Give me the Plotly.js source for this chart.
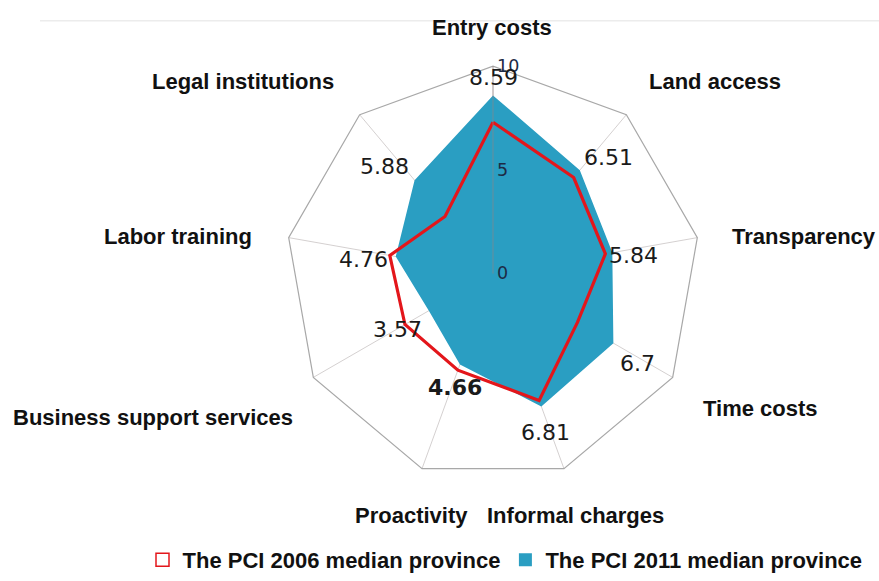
<!DOCTYPE html>
<html>
<head>
<meta charset="utf-8">
<script src="https://cdn.plot.ly/plotly-3.0.1.min.js"></script>
<style>html,body{margin:0;padding:0;background:#fff;}#chart{width:879px;height:581px;}</style>
</head>
<body>
<div id="chart"></div>
<script>
// ---- data ----
const categories = ["Entry costs","Land access","Transparency","Time costs","Informal charges","Proactivity","Business support services","Labor training","Legal institutions"];
const pci2011 = [8.59, 6.51, 5.84, 6.7, 6.81, 4.66, 3.57, 4.76, 5.88];
const pci2006 = [7.3, 6.05, 5.5, 4.7, 6.5, 4.95, 4.9, 5.05, 3.6];
const valueLabels = ["8.59","6.51","5.84","6.7","6.81","<b>4.66</b>","3.57","4.76","5.88"];
const seriesNames = ["The PCI 2006 median province","The PCI 2011 median province"];
const radialTicks = [0, 5, 10];

// ---- layout helpers (pixel positions, not data) ----
const W = 879, H = 581;
const catLabelPos = [[492,28],[715,82],[804,239],[760,413],[575,522],[411,522],[153,423],[178,239],[243,83]];
const valLabelPos = [[493,78],[608,159],[633,259],[637,368],[545,438],[455,392],[397,334],[363,263],[384,169]];
const px = (x)=>x/W, py = (y)=>1-y/H;

const close = a => a.concat([a[0]]);
const thetaC = close(categories);
const blue = 'rgb(42,158,194)';

const traces = [
  {type:'scatterpolar', r: close(pci2011), theta: thetaC, mode:'lines', fill:'toself',
   fillcolor:blue, line:{color:'rgba(0,0,0,0)', width:0}, showlegend:false, hoverinfo:'skip'},
  {type:'scatterpolar', r: close(pci2006), theta: thetaC, mode:'lines',
   line:{color:'#e3161b', width:3.2}, showlegend:false, hoverinfo:'skip'},
  {type:'scatterpolar', r:[null], theta:[categories[0]], mode:'markers', name: seriesNames[0],
   marker:{symbol:'square-open', size:13, color:'#e3161b', line:{width:1.5}}},
  {type:'scatterpolar', r:[null], theta:[categories[0]], mode:'markers', name: seriesNames[1],
   marker:{symbol:'square', size:13, color:blue}}
];

const annotations = [];
categories.forEach((c,i)=>{
  annotations.push({xref:'paper', yref:'paper', x:px(catLabelPos[i][0]), y:py(catLabelPos[i][1]),
    xanchor:'center', yanchor:'middle', text:'<b>'+c+'</b>', showarrow:false,
    font:{family:'Liberation Sans, Arial, sans-serif', size:22, color:'#111'}});
});
valueLabels.forEach((t,i)=>{
  annotations.push({xref:'paper', yref:'paper', x:px(valLabelPos[i][0]), y:py(valLabelPos[i][1]),
    xanchor:'center', yanchor:'middle', text:t, showarrow:false,
    font:{family:'DejaVu Sans, sans-serif', size:22, color:'#1a1a1a'}});
});

const layout = {
  width: W, height: H,
  margin:{l:0, r:0, t:0, b:0},
  paper_bgcolor:'#fff',
  showlegend:true,
  legend:{orientation:'h', x:px(505), xanchor:'center', y:py(567), yanchor:'middle',
    font:{family:'Liberation Sans, Arial, sans-serif', size:22, color:'#111', weight:'bold'},
    itemwidth:30, tracegroupgap:0, bgcolor:'rgba(0,0,0,0)'},
  polar:{
    domain:{x:[283/W, 703/W], y:[1-487/H, 1-67/H]},
    gridshape:'linear',
    bgcolor:'#fff',
    radialaxis:{range:[0,10], tickvals:radialTicks, ticktext:radialTicks.map(String), angle:90, tickangle:90,
      showgrid:false, showline:true, linecolor:'rgba(150,130,130,0.6)', linewidth:1,
      ticks:'', tickfont:{family:'DejaVu Sans, sans-serif', size:17.5, color:'#1d2b45'},
      layer:'above traces', side:'clockwise'},
    angularaxis:{categoryarray:categories, type:'category', rotation:90, direction:'clockwise',
      showticklabels:false, ticks:'', showgrid:true, gridcolor:'rgba(160,150,150,0.45)', gridwidth:1,
      showline:true, linecolor:'#a8a8a8', linewidth:1.2, layer:'above traces'}
  },
  shapes:[{type:'line', xref:'paper', yref:'paper', x0:px(40), x1:1, y0:py(21), y1:py(21),
    line:{color:'#ececec', width:1.5}, layer:'below'}],
  annotations: annotations
};

Plotly.newPlot('chart', traces, layout, {displayModeBar:false, staticPlot:true});
</script>
</body>
</html>
